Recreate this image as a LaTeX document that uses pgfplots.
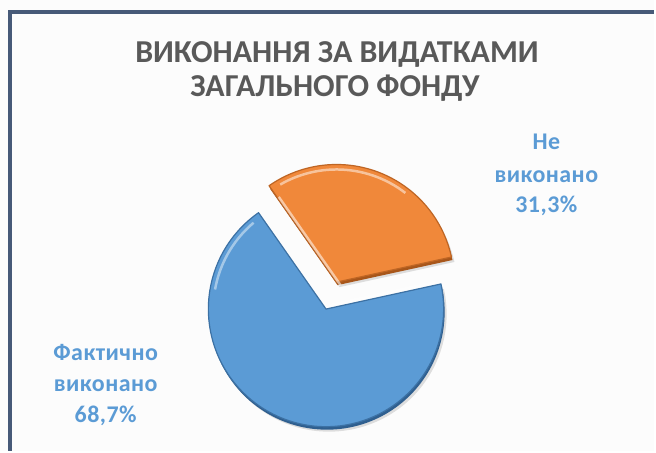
\documentclass[border=0pt]{standalone}
\usepackage{fontspec}
\setmainfont{Carlito}
\usepackage{pgfplots}
\usepackage{pgfplotstable}
\pgfplotsset{compat=1.18}
\definecolor{sliceblue}{HTML}{5B9BD5}
\definecolor{sliceblueD}{HTML}{2F5F8F}
\definecolor{sliceorange}{HTML}{F0883A}
\definecolor{sliceorangeD}{HTML}{A8561A}
\definecolor{labblue}{HTML}{5B9BD5}
\definecolor{titlegray}{HTML}{595959}
\definecolor{framecol}{HTML}{475A78}
\definecolor{bgcol}{HTML}{FCFCFC}
\tikzset{
  titlefont/.style={text=titlegray, font=\fontsize{32bp}{34bp}\selectfont\bfseries},
  labfont/.style={text=labblue, font=\fontsize{24bp}{28bp}\selectfont\bfseries\addfontfeatures{LetterSpace=2}},
}

\pgfplotstableread{
label value
Fakt  68.7
Ne    31.3
}\piedata

\begin{document}
\begin{tikzpicture}
\pgfplotstablegetelem{0}{value}\of\piedata \let\vA\pgfplotsretval
\pgfplotstablegetelem{1}{value}\of\piedata \let\vB\pgfplotsretval
\pgfmathsetmacro{\aS}{125}
\pgfmathsetmacro{\aM}{\aS+3.6*\vA}
\pgfmathsetmacro{\aE}{\aM+3.6*\vB}
\pgfmathsetmacro{\aBis}{(\aM+\aE)/2}
\pgfmathsetmacro{\cx}{327}
\pgfmathsetmacro{\cy}{142}
\pgfmathsetmacro{\R}{118}
\pgfmathsetmacro{\ox}{\cx+29*cos(\aBis)}
\pgfmathsetmacro{\oy}{\cy+29*sin(\aBis)}
\begin{axis}[
  width=656bp, height=452bp, scale only axis,
  xmin=0, xmax=656, ymin=0, ymax=452,
  hide axis, clip=false,
]
% background and full bounding box
\fill[bgcol] (axis cs:0,0) rectangle (axis cs:656,452);
% frame
\draw[framecol, line width=4bp] (axis cs:10.3,0) -- (axis cs:10.3,440) -- (axis cs:656,440);
% shadows
\addplot[fill=black, fill opacity=0.12, draw=none, domain=\aS:\aM, samples=120, variable=\t]
  ({\cx+3+\R*cos(t)}, {\cy-5+\R*sin(t)}) -- (axis cs:\cx+3,\cy-5) -- cycle;
\addplot[fill=black, fill opacity=0.12, draw=none, domain=\aM:\aE, samples=80, variable=\t]
  ({\ox+3+\R*cos(t)}, {\oy-5+\R*sin(t)}) -- (axis cs:\ox+3,\oy-5) -- cycle;
% depth edge
\addplot[fill=sliceblueD, draw=none, domain=\aS:\aM, samples=120, variable=\t]
  ({\cx+1+\R*cos(t)}, {\cy-3+\R*sin(t)}) -- (axis cs:\cx+1,\cy-3) -- cycle;
\addplot[fill=sliceorangeD, draw=none, domain=\aM:\aE, samples=80, variable=\t]
  ({\ox+1+\R*cos(t)}, {\oy-3+\R*sin(t)}) -- (axis cs:\ox+1,\oy-3) -- cycle;
% main faces
\addplot[fill=sliceblue, draw=sliceblueD!70!sliceblue, line width=1.2bp, line join=round, domain=\aS:\aM, samples=120, variable=\t]
  ({\cx+\R*cos(t)}, {\cy+\R*sin(t)}) -- (axis cs:\cx,\cy) -- cycle;
\addplot[fill=sliceorange, draw=sliceorangeD!70!sliceorange, line width=1.2bp, line join=round, domain=\aM:\aE, samples=80, variable=\t]
  ({\ox+\R*cos(t)}, {\oy+\R*sin(t)}) -- (axis cs:\ox,\oy) -- cycle;
% bevel highlights on arcs
\addplot[white, opacity=0.45, line width=2.5bp, domain=\aS+5:\aS+45, samples=30, variable=\t]
  ({\cx+(\R-5)*cos(t)}, {\cy+(\R-5)*sin(t)});
\addplot[white, opacity=0.5, line width=2.5bp, domain=\aM+40:\aE-5, samples=30, variable=\t]
  ({\ox+(\R-5)*cos(t)}, {\oy+(\R-5)*sin(t)});
% highlights along straight edges
\addplot[white, opacity=0.55, line width=2.5bp, domain=0:1, samples=2, variable=\t]
  ({\cx+4+(\R-10)*t*cos(\aM)}, {\cy+4+(\R-10)*t*sin(\aM)});
\addplot[white, opacity=0.55, line width=2.5bp, domain=0:1, samples=2, variable=\t]
  ({\ox+(\R-10)*t*cos(\aE)+4}, {\oy+(\R-10)*t*sin(\aE)-3});
% title
\node[anchor=base, titlefont] at (axis cs:338,389) {ВИКОНАННЯ ЗА ВИДАТКАМИ};
\node[anchor=base, titlefont] at (axis cs:336,355) {ЗАГАЛЬНОГО ФОНДУ};
% labels
\node[anchor=base, labfont] at (axis cs:106,90) {Фактично};
\node[anchor=base, labfont] at (axis cs:106,59) {виконано};
\node[anchor=base, labfont] at (axis cs:106,28) {68,7\%};
\node[anchor=base, labfont] at (axis cs:548,302) {Не};
\node[anchor=base, labfont] at (axis cs:548,269) {виконано};
\node[anchor=base, labfont] at (axis cs:548,239) {31,3\%};
\end{axis}
\end{tikzpicture}
\end{document}
